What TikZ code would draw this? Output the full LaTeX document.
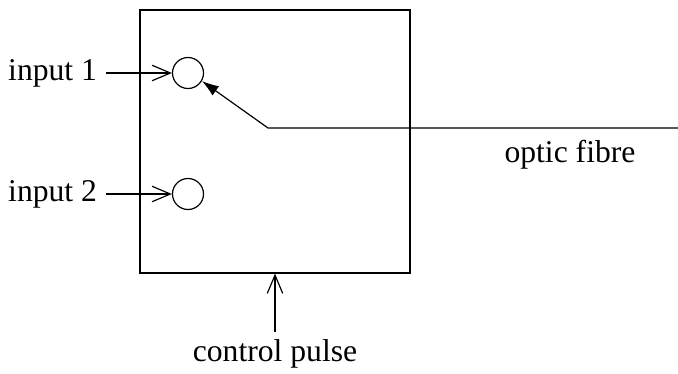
\documentclass[tikz,border=0pt]{standalone}
\usepackage{fontspec}
\setmainfont{Liberation Serif}
\usetikzlibrary{positioning,arrows.meta}

\begin{document}
\begin{tikzpicture}[x=0.025cm,y=-0.025cm,line width=0.85pt,
    font=\fontsize{22.5}{26}\selectfont,
    port/.style={draw,circle,minimum size=31*0.025cm,inner sep=0pt},
    lbl/.style={inner sep=1pt},
    feed/.style={-{Straight Barb[length=13pt,width=11pt]}},
    tip/.style={-{Latex[length=12pt,width=8pt]}}]
  \useasboundingbox (0,0) rectangle (678,374);
  \node[draw,minimum width=270*0.025cm,minimum height=263*0.025cm,inner sep=0pt] (switch) at (275,141.5) {};
  \node[port] (in1) at (188,73) {};
  \node[port] (in2) at (188,194) {};
  \node[lbl,anchor=east] (lab1) at (99,73) {input 1};
  \node[lbl,anchor=east] (lab2) at (99,194) {input 2};
  \node[lbl] (fibre) at (570,155) {optic fibre};
  \node[lbl] (pulse) at (275,354) {control pulse};
  \coordinate (fibreend) at (678,128);
  \coordinate (knee) at (268,128);
  \draw[feed] ([xshift=5pt]lab1.east) -- (in1.west);
  \draw[feed] ([xshift=5pt]lab2.east) -- (in2.west);
  \draw[tip] (fibreend) -- (knee) -- (in1.-30);
  \draw[feed] ([yshift=4pt]pulse.north) -- (pulse.north |- switch.south);
\end{tikzpicture}
\end{document}
